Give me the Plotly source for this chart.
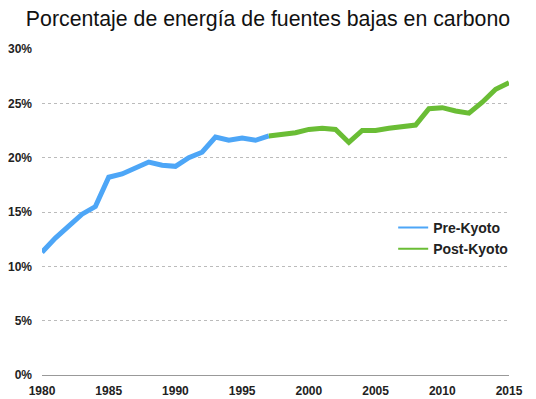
import plotly.graph_objects as go

pre_years = list(range(1980, 1998))
pre_values = [11.3, 12.6, 13.7, 14.8, 15.5, 18.2, 18.5, 19.0, 19.6, 19.3, 19.2,
              20.0, 20.5, 21.9, 21.6, 21.8, 21.6, 22.0]
post_years = list(range(1997, 2016))
post_values = [22.0, 22.1, 22.3, 22.6, 22.7, 22.6, 21.4, 22.5, 22.5, 22.7, 22.8,
               23.0, 24.5, 24.6, 24.3, 24.1, 25.1, 26.3, 26.9]
x_ticks = [1980, 1985, 1990, 1995, 2000, 2005, 2010, 2015]
y_ticks = [0, 5, 10, 15, 20, 25, 30]
y_labels = ["0%", "5%", "10%", "15%", "20%", "25%", "30%"]

blue = "#4DA6F7"
green = "#6ABD35"

fig = go.Figure()
fig.add_trace(go.Scatter(x=pre_years, y=pre_values, mode="lines",
                         line=dict(color=blue, width=5), showlegend=False,
                         hoverinfo="skip"))
fig.add_trace(go.Scatter(x=post_years, y=post_values, mode="lines",
                         line=dict(color=green, width=5), showlegend=False,
                         hoverinfo="skip"))
# legend entries
fig.add_trace(go.Scatter(x=[None], y=[None], mode="lines", name="Pre-Kyoto",
                         line=dict(color=blue, width=2)))
fig.add_trace(go.Scatter(x=[None], y=[None], mode="lines", name="Post-Kyoto",
                         line=dict(color=green, width=2)))

# page body has an 8px margin, so the figure is sized to fit the window
fig.update_layout(
    width=528, height=391,
    margin=dict(l=34, r=27, t=41, b=24, autoexpand=False),
    paper_bgcolor="white", plot_bgcolor="white",
    font=dict(family="Liberation Sans, Arial, sans-serif", color="#222"),
    title=dict(text="Porcentaje de energía de fuentes bajas en carbono",
               x=0.4924, xref="container", xanchor="center",
               y=0.974, yref="container", yanchor="middle", automargin=False,
               font=dict(size=21.3, color="#111")),
    legend=dict(x=0.752, y=0.419, xanchor="left", yanchor="middle",
                font=dict(size=14, color="#222", weight="bold"),
                bgcolor="rgba(0,0,0,0)", tracegroupgap=0),
    xaxis=dict(range=[1980, 2015], tickvals=x_ticks, showgrid=False,
               zeroline=False, showline=False, ticks="", automargin=False,
               tickfont=dict(size=12, weight="bold"), ticklabelstandoff=7),
    yaxis=dict(range=[0, 30], tickvals=y_ticks, ticktext=y_labels,
               showgrid=True, gridcolor="#BBBBBB", griddash="dot", gridwidth=1,
               zeroline=True, zerolinecolor="#999999", zerolinewidth=1,
               showline=False, ticks="", automargin=False,
               tickfont=dict(size=12, weight="bold"), ticklabelstandoff=9),
)

fig.write_html("out.html")
